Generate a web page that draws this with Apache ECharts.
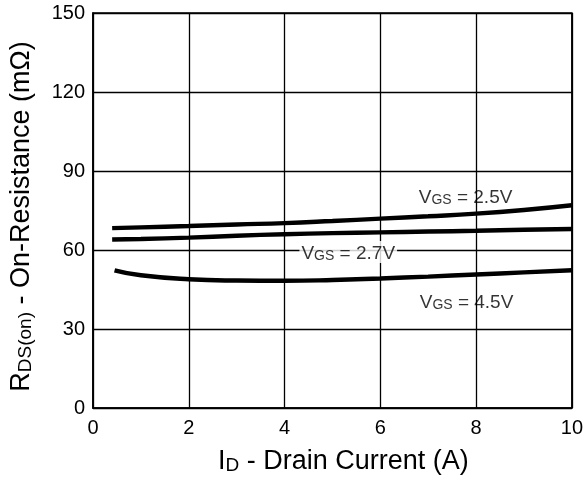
<!DOCTYPE html>
<html><head><meta charset="utf-8">
<script src="https://cdn.jsdelivr.net/npm/echarts@6/dist/echarts.min.js"></script>
<style>html,body{margin:0;padding:0;background:#fff}#c{width:586px;height:481px}</style>
</head><body><div id="c"></div>
<script>
var FONT = '"Liberation Sans", Arial, sans-serif';
var xTicks = [0, 2, 4, 6, 8, 10];
var yTicks = [0, 30, 60, 90, 120, 150];
var id_25 = [0.4, 1, 2, 3, 4, 5, 6, 7, 8, 9, 10];
var r_25  = [68.3, 68.6, 69.1, 69.7, 70.2, 71.0, 71.9, 72.8, 73.8, 75.2, 77.0];
var id_27 = [0.4, 1, 2, 3, 4, 5, 6, 7, 8, 9, 10];
var r_27  = [64.0, 64.2, 64.7, 65.4, 66.0, 66.4, 66.7, 67.0, 67.3, 67.7, 68.0];
var id_45 = [0.45, 1, 2, 3, 4, 5, 6, 7, 8, 9, 10];
var r_45  = [52.3, 50.4, 48.9, 48.4, 48.3, 48.6, 49.2, 49.9, 50.7, 51.5, 52.3];
var labelText = ['2.5V', '2.7V', '4.5V'];
var labelX = [7.78, 5.33, 7.8];
var labelY = [80.4, 59.2, 40.4];

function pairs(xs, ys){ return xs.map(function(x,i){ return [x, ys[i]]; }); }
function lineSeries(xs, ys){
  return { type:'line', data: pairs(xs, ys), smooth: true, showSymbol:false, symbol:'none',
    lineStyle:{ color:'#000', width:4.4 }, z:5, animation:false };
}
var ann = labelText.map(function(t,i){
  return { value:[labelX[i], labelY[i]], label:{ formatter:'{v|V}{s|GS}{v| = ' + t + '}',
    backgroundColor: i === 1 ? '#fff' : 'transparent', padding:[0,2,0,2] } };
});
var chart = echarts.init(document.getElementById('c'), null, {renderer:'canvas'});
chart.setOption({
  animation:false,
  backgroundColor:'#fff',
  grid:{ left:93, right:11, top:13, bottom:73, show:true, borderColor:'#000', borderWidth:1.6, backgroundColor:'transparent' },
  xAxis:{ type:'value', min:xTicks[0], max:xTicks[xTicks.length-1], interval:2,
    axisLine:{ show:true, lineStyle:{ color:'#000', width:1.6 } }, axisTick:{ show:false },
    splitLine:{ show:true, lineStyle:{ color:'#000', width:1.3 } },
    axisLabel:{ color:'#000', fontSize:20, fontFamily:FONT, margin:10 },
    name:'{m|I}{s|D}{m| - Drain Current (A)}', nameLocation:'middle', nameGap:37,
    nameTextStyle:{ padding:[0,0,0,22], rich:{ m:{ fontSize:27, fontFamily:FONT, color:'#000', verticalAlign:'bottom', lineHeight:30 },
      s:{ fontSize:19, fontFamily:FONT, color:'#000', verticalAlign:'bottom', lineHeight:25 } } } },
  yAxis:{ type:'value', min:yTicks[0], max:yTicks[yTicks.length-1], interval:30,
    axisLine:{ show:true, lineStyle:{ color:'#000', width:1.6 } }, axisTick:{ show:false },
    splitLine:{ show:true, lineStyle:{ color:'#000', width:1.3 } },
    axisLabel:{ color:'#000', fontSize:20, fontFamily:FONT, margin:8 },
    name:'{m|R}{s|DS(on)}{m| - On-Resistance (mΩ)}', nameLocation:'middle', nameRotate:90, nameGap:58,
    nameTextStyle:{ padding:[0,12,0,0], rich:{ m:{ fontSize:27, fontFamily:FONT, color:'#000', verticalAlign:'bottom', lineHeight:30 },
      s:{ fontSize:19, fontFamily:FONT, color:'#000', verticalAlign:'bottom', lineHeight:25 } } } },
  series:[
    lineSeries(id_25, r_25),
    lineSeries(id_27, r_27),
    lineSeries(id_45, r_45),
    { type:'scatter', data: ann, symbolSize:0, z:10, animation:false, silent:true,
      label:{ show:true, position:'inside', color:'#000',
        rich:{ v:{ fontSize:19, fontFamily:FONT, color:'#000', verticalAlign:'bottom', lineHeight:22 },
               s:{ fontSize:14, fontFamily:FONT, color:'#000', verticalAlign:'bottom', lineHeight:18 } } } }
  ]
});
</script></body></html>
